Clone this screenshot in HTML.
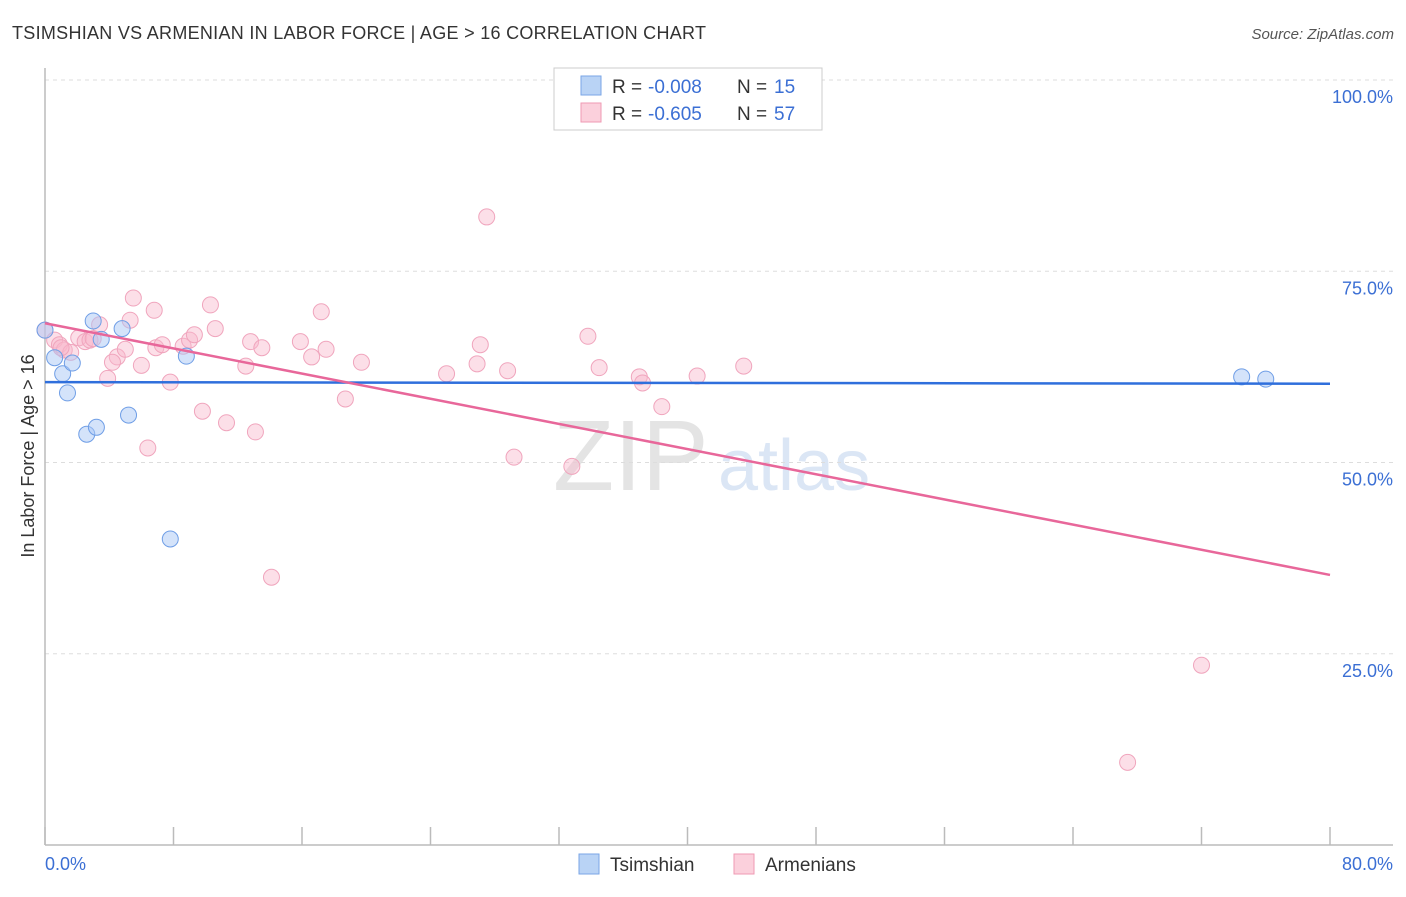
<!DOCTYPE html>
<html><head><meta charset="utf-8"><style>
body{margin:0;background:#fff;font-family:"Liberation Sans",sans-serif;}
svg text{font-family:"Liberation Sans",sans-serif;}
</style></head><body>
<svg id="chart" width="1406" height="892" xmlns="http://www.w3.org/2000/svg">
<text x="12" y="39" font-size="18" fill="#333" textLength="694">TSIMSHIAN VS ARMENIAN IN LABOR FORCE | AGE &gt; 16 CORRELATION CHART</text>
<text x="1394" y="39" font-size="15" fill="#555" font-style="italic" text-anchor="end">Source: ZipAtlas.com</text>
<text x="553" y="490" font-size="100" fill="#e4e4e4" font-family="Liberation Serif">ZIP</text>
<text x="718" y="490" font-size="72" fill="#dbe6f5">atlas</text>
<g id="grid"></g>
<line x1="45" y1="68" x2="45" y2="845" stroke="#bbb" stroke-width="1.5"/>
<line x1="45" y1="845" x2="1393" y2="845" stroke="#bbb" stroke-width="1.5"/>
<g id="xticks"></g>
<text transform="translate(34,456) rotate(-90)" font-size="18" fill="#333" text-anchor="middle">In Labor Force | Age &gt; 16</text>
<text x="45" y="870" font-size="18" fill="#3b6fd4">0.0%</text>
<text x="1393" y="870" font-size="18" fill="#3b6fd4" text-anchor="end">80.0%</text>
<g id="pts"></g>
<g id="lines"></g>
<g>
<rect x="554" y="68" width="268" height="62" fill="#fff" stroke="#ccc"/>
<rect x="581" y="76" width="20" height="19" fill="#b9d3f5" stroke="#7aa6e6"/>
<rect x="581" y="103" width="20" height="19" fill="#fbd0dc" stroke="#ef9ab3"/>
<text x="612" y="93" font-size="19" fill="#333">R = </text>
<text x="648" y="93" font-size="19" fill="#3b6fd4">-0.008</text>
<text x="737" y="93" font-size="19" fill="#333">N = </text>
<text x="774" y="93" font-size="19" fill="#3b6fd4">15</text>
<text x="612" y="120" font-size="19" fill="#333">R = </text>
<text x="648" y="120" font-size="19" fill="#3b6fd4">-0.605</text>
<text x="737" y="120" font-size="19" fill="#333">N = </text>
<text x="774" y="120" font-size="19" fill="#3b6fd4">57</text>
</g>
<g>
<rect x="579" y="854" width="20" height="20" fill="#b9d3f5" stroke="#7aa6e6"/>
<text x="610" y="871" font-size="19" fill="#333">Tsimshian</text>
<rect x="734" y="854" width="20" height="20" fill="#fbd0dc" stroke="#ef9ab3"/>
<text x="765" y="871" font-size="19" fill="#333">Armenians</text>
</g>
</svg>
<script>
const yTicks=[25,50,75,100];
const yTickLabels=["25.0%","50.0%","75.0%","100.0%"];
const xTicks=[0,8,16,24,32,40,48,56,64,72,80];
const tsX=[0,0.6,1.1,1.7,1.4,3.0,3.5,4.8,2.6,3.2,5.2,8.8,7.8,74.5,76.0];
const tsY=[67.3,63.7,61.6,63.0,59.1,68.5,66.1,67.5,53.7,54.6,56.2,63.9,40.0,61.2,60.9];
const arX=[0,0.6,0.9,1.2,1.6,2.1,2.5,2.8,3.4,3.9,4.5,4.2,5.0,5.3,5.5,6.0,6.4,6.8,6.9,7.3,7.8,8.6,9.0,9.3,9.8,10.3,10.6,11.3,12.5,12.8,13.1,13.5,14.1,15.9,16.6,17.2,17.5,18.7,19.7,25.0,26.9,27.1,27.5,28.8,29.2,32.8,33.8,34.5,37.0,37.2,38.4,40.6,43.5,72.0,67.4,1.0,3.0];
const arY=[67.3,66.0,65.4,64.7,64.4,66.3,65.8,66.0,68.0,61.0,63.8,63.1,64.8,68.6,71.5,62.7,51.9,69.9,65.0,65.4,60.5,65.2,66.0,66.7,56.7,70.6,67.5,55.2,62.6,65.8,54.0,65.0,35.0,65.8,63.8,69.7,64.8,58.3,63.1,61.6,62.9,65.4,82.1,62.0,50.7,49.5,66.5,62.4,61.2,60.4,57.3,61.3,62.6,23.5,10.8,65.0,66.2];
const tsTrend=[60.5,60.3];
const arTrend=[68.2,35.3];
const NS="http://www.w3.org/2000/svg";
const X=v=>45+v*(1285/80);
const Y=v=>845-v*7.65;
function mk(tag,attrs,parent){const e=document.createElementNS(NS,tag);for(const k in attrs)e.setAttribute(k,attrs[k]);document.getElementById(parent).appendChild(e);return e;}
yTicks.forEach((t,i)=>{
 const l=mk('line',{x1:45,x2:1393,y1:Y(t),y2:Y(t),stroke:'#ddd','stroke-dasharray':'4,4'},'grid');
 
 
 const tx=mk('text',{x:1393,y:Y(t)+23,'font-size':18,fill:'#3b6fd4','text-anchor':'end'},'grid');
 tx.textContent=yTickLabels[i];
 
 
});
xTicks.forEach(t=>{
 const l=mk('line',{x1:X(t),x2:X(t),y1:827,y2:845,stroke:'#bbb','stroke-width':1.5},'xticks');
 
 
});
arX.forEach((x,i)=>{
 const c=mk('circle',{cx:X(x),cy:Y(arY[i]),r:8,fill:'rgba(248,185,205,0.45)',stroke:'#f0a5bd','stroke-width':1},'pts');
 
 
});
tsX.forEach((x,i)=>{
 const c=mk('circle',{cx:X(x),cy:Y(tsY[i]),r:8,fill:'rgba(170,200,245,0.5)',stroke:'#6f9ee6','stroke-width':1},'pts');
 
 
});
const l1=mk('line',{x1:X(0),x2:X(80),y1:Y(tsTrend[0]),y2:Y(tsTrend[1]),stroke:'#2f6fdc','stroke-width':2.5},'lines');


const l2=mk('line',{x1:X(0),x2:X(80),y1:Y(arTrend[0]),y2:Y(arTrend[1]),stroke:'#e8679a','stroke-width':2.5},'lines');


</script>
</body></html>
